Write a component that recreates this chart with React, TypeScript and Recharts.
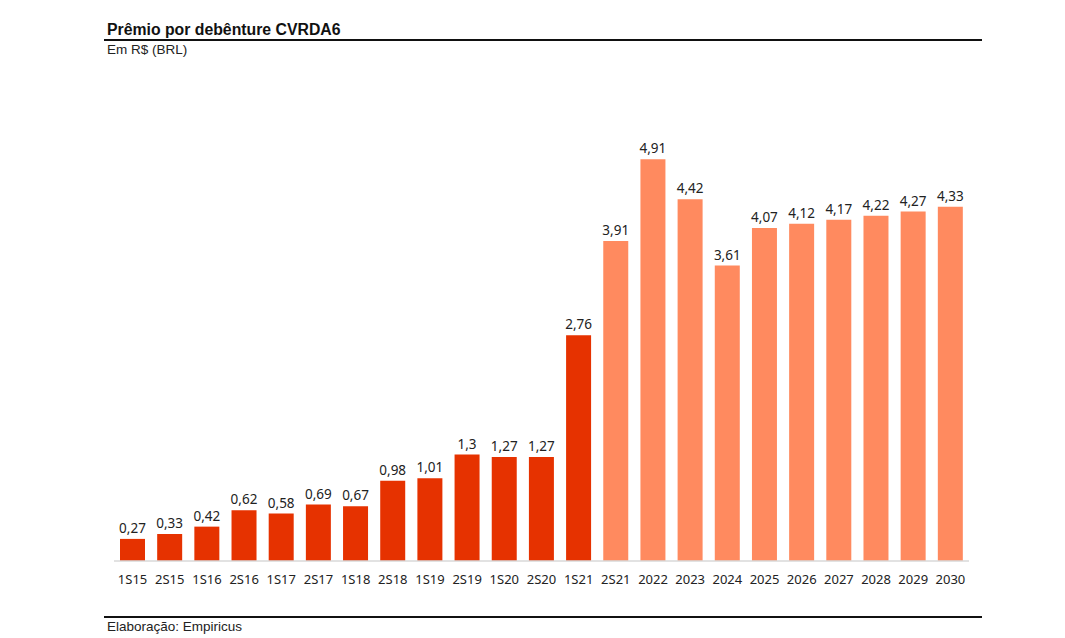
import { BarChart, Bar, XAxis, YAxis, LabelList, Cell } from "recharts";

const categories = [
  "1S15", "2S15", "1S16", "2S16", "1S17", "2S17", "1S18", "2S18", "1S19", "2S19",
  "1S20", "2S20", "1S21", "2S21", "2022", "2023", "2024", "2025", "2026", "2027",
  "2028", "2029", "2030",
];

const premio = [
  0.27, 0.33, 0.42, 0.62, 0.58, 0.69, 0.67, 0.98, 1.01, 1.3,
  1.27, 1.27, 2.76, 3.91, 4.91, 4.42, 3.61, 4.07, 4.12, 4.17,
  4.22, 4.27, 4.33,
];

// first 13 periods paid (dark), rest projected (light)
const paidCount = 13;

const DARK = "#E63200";
const LIGHT = "#FF8A5F";

const data = categories.map((c, i) => ({ period: c, value: premio[i] }));

const fmt = (v: any) => String(v).replace(".", ",");

export default function App() {
  return (
    <div
      style={{
        position: "absolute",
        left: 0,
        top: 0,
        width: 1065,
        height: 638,
        background: "#fff",
        fontFamily: "'Liberation Sans', Arial, sans-serif",
      }}
    >
      <div
        style={{
          position: "absolute",
          left: 107,
          top: 21,
          fontSize: 15.8,
          fontWeight: 700,
          color: "#111",
        }}
      >
        Prêmio por debênture CVRDA6
      </div>
      <div
        style={{
          position: "absolute",
          left: 104,
          top: 39,
          width: 878,
          height: 2,
          background: "#111",
        }}
      />
      <div style={{ position: "absolute", left: 107, top: 42, fontSize: 13.5, color: "#222" }}>
        Em R$ (BRL)
      </div>

      <div style={{ position: "absolute", left: 0, top: 0 }}>
        <BarChart
          width={1065}
          height={638}
          data={data}
          margin={{ top: 70, left: 114, right: 96, bottom: 47 }}
        >
          <XAxis
            dataKey="period"
            height={30}
            axisLine={{ stroke: "#d9d9d9", strokeWidth: 1.5 }}
            tickLine={false}
            interval={0}
            tick={{ fill: "#222", fontSize: 13, fontFamily: "'Noto Sans', sans-serif" }}
            tickMargin={8}
          />
          <YAxis hide domain={[0, 6]} />
          <Bar dataKey="value" barSize={25} isAnimationActive={false}>
            {data.map((d, i) => (
              <Cell key={d.period} fill={i < paidCount ? DARK : LIGHT} />
            ))}
            <LabelList
              dataKey="value"
              position="top"
              offset={6}
              formatter={fmt}
              style={{ fill: "#222", fontSize: 13.5, fontFamily: "'Noto Sans', sans-serif" }}
            />
          </Bar>
        </BarChart>
      </div>

      <div
        style={{
          position: "absolute",
          left: 104,
          top: 616,
          width: 878,
          height: 2,
          background: "#111",
        }}
      />
      <div style={{ position: "absolute", left: 107, top: 619, fontSize: 13.5, color: "#222" }}>
        Elaboração: Empiricus
      </div>
    </div>
  );
}
